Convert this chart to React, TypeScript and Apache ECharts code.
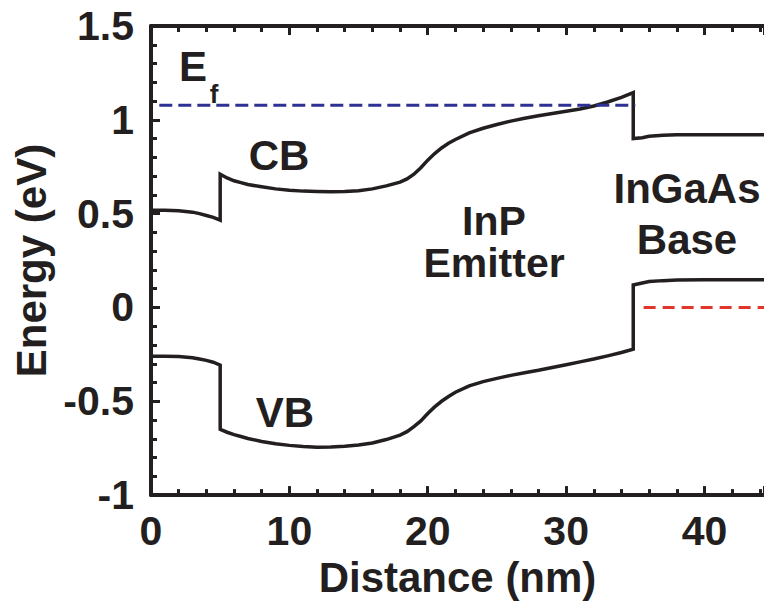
import React, { useEffect, useRef } from "react";
import * as echarts from "echarts";

// Distance (nm) sample points (duplicated x = abrupt heterojunction steps)
const distance = [0, 1, 2, 3, 3.5, 4, 4.5, 5, 5, 5.5, 6, 6.5, 7, 8, 9, 10, 11, 12, 13, 14, 15, 16, 17, 18, 18.5, 19, 19.5, 20, 20.5, 21, 21.5, 22, 23, 24, 25, 26, 27, 28, 29, 30, 31, 32, 33, 34, 34.85, 34.85, 35.5, 36, 37, 38, 40, 42, 44.3];
// Conduction band energy (eV)
const cbEnergy = [0.518, 0.518, 0.515, 0.508, 0.5, 0.49, 0.48, 0.465, 0.71, 0.69, 0.675, 0.665, 0.655, 0.643, 0.632, 0.625, 0.62, 0.618, 0.617, 0.618, 0.622, 0.632, 0.648, 0.668, 0.685, 0.71, 0.745, 0.785, 0.82, 0.85, 0.875, 0.895, 0.93, 0.955, 0.975, 0.993, 1.008, 1.022, 1.034, 1.046, 1.058, 1.074, 1.095, 1.12, 1.145, 0.9, 0.905, 0.912, 0.918, 0.92, 0.92, 0.92, 0.92];
// Valence band energy (eV)
const vbEnergy = [-0.26, -0.26, -0.262, -0.268, -0.275, -0.282, -0.292, -0.307, -0.65, -0.665, -0.678, -0.688, -0.698, -0.714, -0.726, -0.735, -0.741, -0.745, -0.744, -0.74, -0.733, -0.722, -0.704, -0.68, -0.662, -0.635, -0.605, -0.565, -0.53, -0.5, -0.475, -0.452, -0.418, -0.395, -0.378, -0.362, -0.348, -0.335, -0.32, -0.305, -0.29, -0.275, -0.258, -0.24, -0.222, 0.12, 0.13, 0.138, 0.143, 0.146, 0.148, 0.148, 0.148];
// Fermi levels
const emitterFermiX = [0.6, 35];
const emitterFermiE = [1.078, 1.078];
const baseFermiX = [35.6, 44.3];
const baseFermiE = [0, 0];

const xTicks = [0, 10, 20, 30, 40];
const yTicks = [-1, -0.5, 0, 0.5, 1, 1.5];

const FONT = "'Liberation Sans', Arial, Helvetica, sans-serif";
const INK = "#231f20";

export default function App() {
  const ref = useRef<HTMLDivElement>(null);
  useEffect(() => {
    if (!ref.current) return;
    const chart = echarts.init(ref.current, null, { renderer: "svg" });
    const zip = (xs: number[], ys: number[]) => xs.map((x, i) => [x, ys[i]]);
    const axisCommon = {
      axisLine: { show: true, onZero: false, lineStyle: { color: INK, width: 4 } },
      axisTick: { show: true, inside: true, length: 9, lineStyle: { color: INK, width: 3 } },
      minorTick: { show: true, splitNumber: 5, length: 6, lineStyle: { color: INK, width: 3 } },
      splitLine: { show: false },
    };
    const textStyle = (size: number) => ({
      fontFamily: FONT,
      fontWeight: "bold",
      fontSize: size,
      fill: INK,
    });
    chart.setOption({
      animation: false,
      grid: { left: 151, top: 26, right: 0, bottom: 104, containLabel: false },
      xAxis: [
        {
          type: "value",
          min: 0,
          max: 44.3,
          interval: 10,
          ...axisCommon,
          name: "Distance (nm)",
          nameLocation: "middle",
          nameGap: 60,
          nameTextStyle: { fontFamily: FONT, fontWeight: "bold", fontSize: 42, color: INK },
          axisLabel: {
            margin: 15,
            fontFamily: FONT,
            fontWeight: "bold",
            fontSize: 41,
            color: INK,
            showMaxLabel: false,
            formatter: (v: number) => (xTicks.includes(v) ? String(v) : ""),
          },
        },
        {
          type: "value",
          position: "top",
          min: 0,
          max: 44.3,
          interval: 10,
          ...axisCommon,
          axisLabel: { show: false },
        },
      ],
      yAxis: {
        type: "value",
        min: -1,
        max: 1.5,
        interval: 0.5,
        ...axisCommon,
        name: "Energy (eV)",
        nameLocation: "middle",
        nameRotate: 90,
        nameGap: 97,
        nameTextStyle: { fontFamily: FONT, fontWeight: "bold", fontSize: 42, color: INK },
        axisLabel: {
          margin: 17,
          fontFamily: FONT,
          fontWeight: "bold",
          fontSize: 41,
          color: INK,
          formatter: (v: number) => (yTicks.includes(v) ? String(v) : ""),
        },
      },
      series: [
        {
          name: "CB",
          type: "line",
          data: zip(distance, cbEnergy),
          showSymbol: false,
          lineStyle: { color: INK, width: 3.5, join: "miter" },
        },
        {
          name: "VB",
          type: "line",
          data: zip(distance, vbEnergy),
          showSymbol: false,
          lineStyle: { color: INK, width: 3.5, join: "miter" },
        },
        {
          name: "Ef emitter",
          type: "line",
          data: zip(emitterFermiX, emitterFermiE),
          showSymbol: false,
          lineStyle: { color: "#2e3192", width: 3, type: [13, 6] },
        },
        {
          name: "Ef base",
          type: "line",
          data: zip(baseFermiX, baseFermiE),
          showSymbol: false,
          lineStyle: { color: "#e0362c", width: 3, type: [12, 7] },
        },
      ],
      graphic: [
        { type: "text", x: 193, y: 66, style: { text: "E", ...textStyle(42), align: "center", verticalAlign: "middle" } },
        { type: "text", x: 214, y: 94, style: { text: "f", ...textStyle(26), align: "center", verticalAlign: "middle" } },
        { type: "text", x: 279, y: 155, style: { text: "CB", ...textStyle(42), align: "center", verticalAlign: "middle" } },
        { type: "text", x: 285, y: 412, style: { text: "VB", ...textStyle(42), align: "center", verticalAlign: "middle" } },
        { type: "text", x: 494, y: 241.5, style: { text: "InP\nEmitter", ...textStyle(41), lineHeight: 42, align: "center", verticalAlign: "middle" } },
        { type: "text", x: 687, y: 213.5, style: { text: "InGaAs\nBase", ...textStyle(42), lineHeight: 51, align: "center", verticalAlign: "middle" } },
      ],
    });
    return () => chart.dispose();
  }, []);
  return <div ref={ref} style={{ width: 764, height: 603, position: "absolute", left: 0, top: 0 }} />;
}
